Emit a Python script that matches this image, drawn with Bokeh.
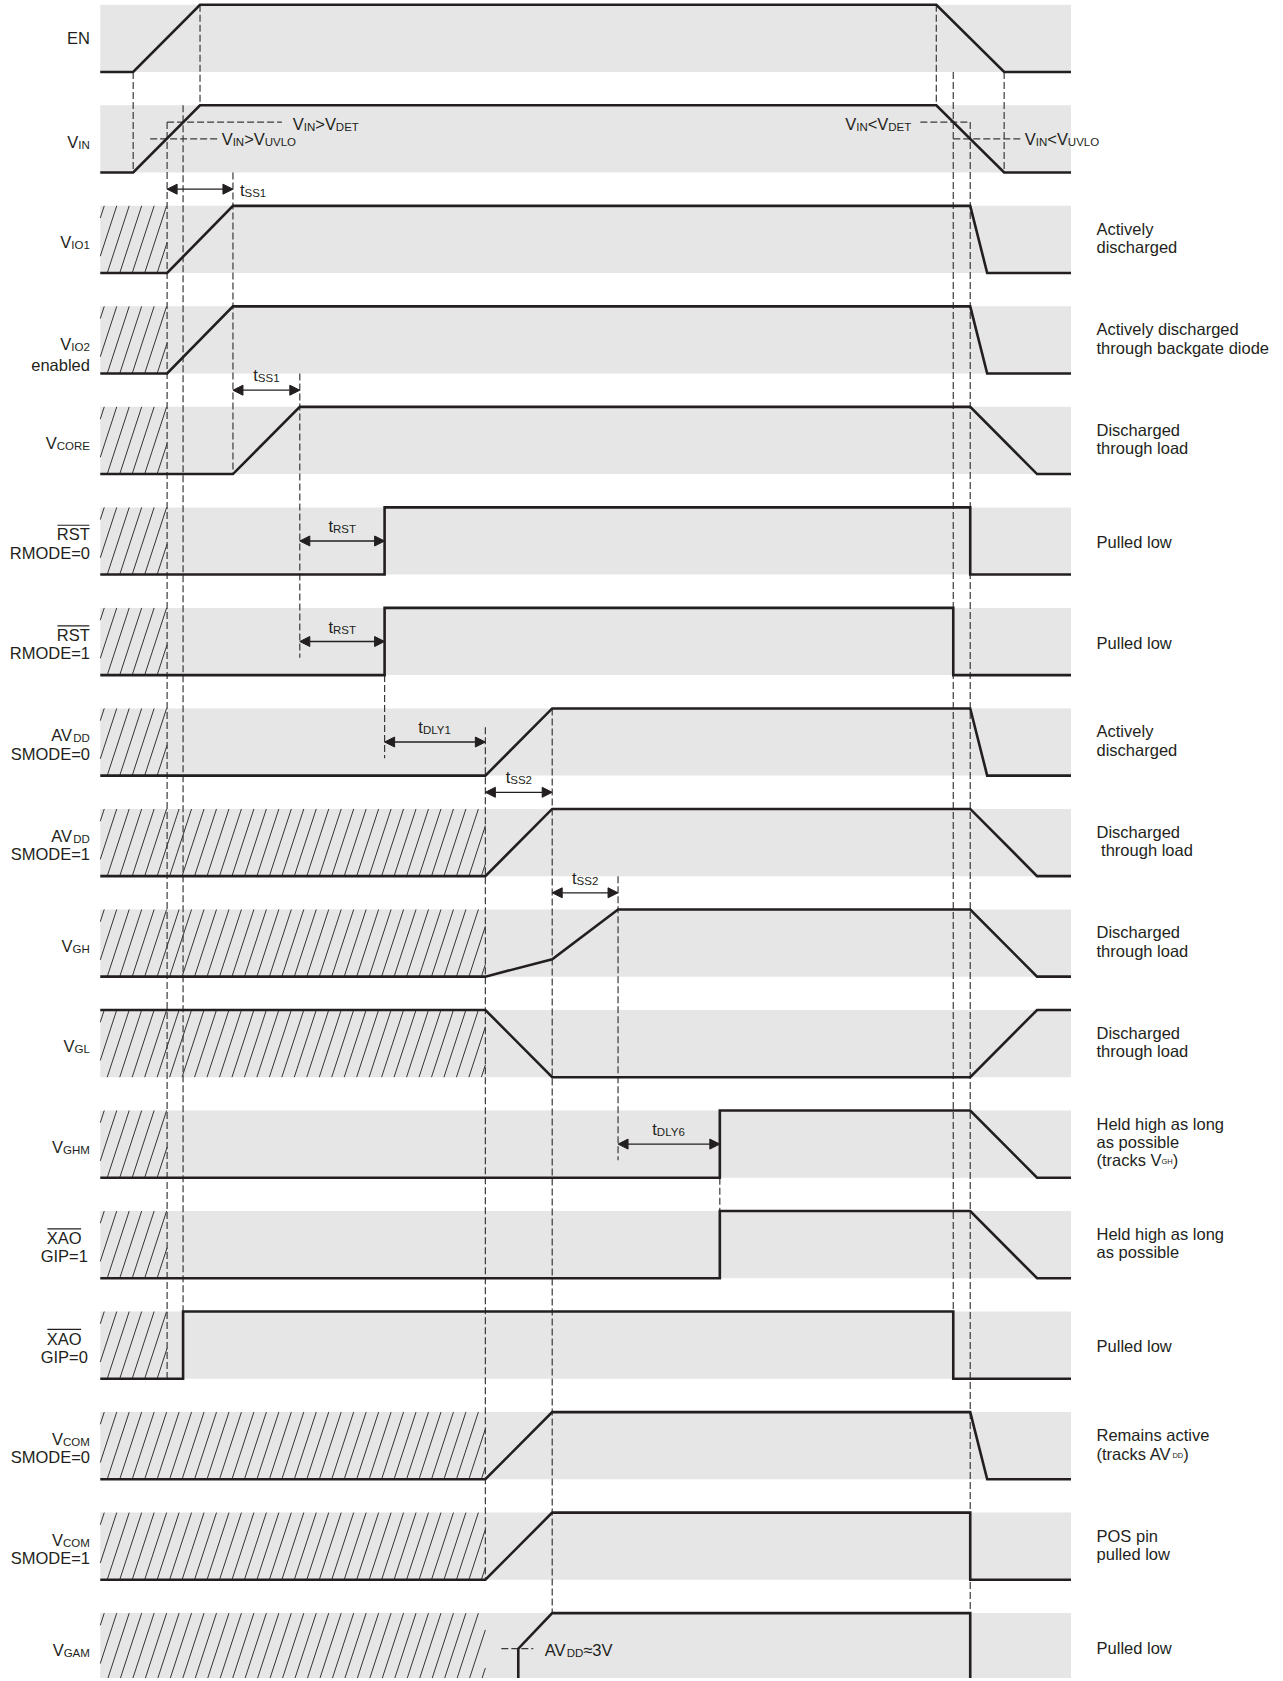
import re
from bokeh.plotting import figure
from bokeh.models import Range1d, ColumnDataSource, Arrow, NormalHead
from bokeh.core.properties import value
from bokeh.embed import file_html
from bokeh.resources import INLINE

INK = "#231f20"
BAND_FILL = "#e6e6e6"
DASH_COLOR = "#3a3a3a"
FONT = "Liberation Sans"

# ---------------- data ----------------
T_START, T_END = 100, 1073            # time axis extent of every trace
BAND_TOP0, BAND_PITCH, BAND_H = 4.3, 100.7, 67.3

V_DET, V_UVLO = 0.75, 0.50            # thresholds on the V_IN trace (fraction of high level)
VGH_KNEE = 0.26
VGAM_3V = 0.47

EN_T    = [100, 133, 200, 938, 1006, 1073];  EN_V    = [0, 0, 1, 1, 0, 0]
VIN_T   = [100, 133, 200, 938, 1006, 1073];  VIN_V   = [0, 0, 1, 1, 0, 0]
VIO1_T  = [100, 167, 233, 972, 989, 1073];   VIO1_V  = [0, 0, 1, 1, 0, 0]
VIO2_T  = [100, 167, 233, 972, 989, 1073];   VIO2_V  = [0, 0, 1, 1, 0, 0]
VCORE_T = [100, 233, 300, 972, 1039, 1073];  VCORE_V = [0, 0, 1, 1, 0, 0]
RST0_T  = [100, 385, 385, 972, 972, 1073];   RST0_V  = [0, 0, 1, 1, 0, 0]
RST1_T  = [100, 385, 385, 955, 955, 1073];   RST1_V  = [0, 0, 1, 1, 0, 0]
AVDD0_T = [100, 486, 553, 972, 989, 1073];   AVDD0_V = [0, 0, 1, 1, 0, 0]
AVDD1_T = [100, 486, 553, 972, 1039, 1073];  AVDD1_V = [0, 0, 1, 1, 0, 0]
VGH_T   = [100, 486, 553, 619, 972, 1039, 1073]; VGH_V = [0, 0, VGH_KNEE, 1, 1, 0, 0]
VGL_T   = [100, 486, 553, 972, 1039, 1073];  VGL_V   = [1, 1, 0, 0, 1, 1]
VGHM_T  = [100, 721, 721, 972, 1039, 1073];  VGHM_V  = [0, 0, 1, 1, 0, 0]
XAO1_T  = [100, 721, 721, 972, 1039, 1073];  XAO1_V  = [0, 0, 1, 1, 0, 0]
XAO0_T  = [100, 183, 183, 955, 955, 1073];   XAO0_V  = [0, 0, 1, 1, 0, 0]
VCOM0_T = [100, 486, 553, 972, 989, 1073];   VCOM0_V = [0, 0, 1, 1, 0, 0]
VCOM1_T = [100, 486, 553, 972, 972, 1073];   VCOM1_V = [0, 0, 1, 1, 0, 0]
VGAM_T  = [100, 519, 519, 553, 972, 972, 1073]; VGAM_V = [0, 0, VGAM_3V, 1, 1, 0, 0]

TRACE_T = [EN_T, VIN_T, VIO1_T, VIO2_T, VCORE_T, RST0_T, RST1_T, AVDD0_T, AVDD1_T,
           VGH_T, VGL_T, VGHM_T, XAO1_T, XAO0_T, VCOM0_T, VCOM1_T, VGAM_T]
TRACE_V = [EN_V, VIN_V, VIO1_V, VIO2_V, VCORE_V, RST0_V, RST1_V, AVDD0_V, AVDD1_V,
           VGH_V, VGL_V, VGHM_V, XAO1_V, XAO0_V, VCOM0_V, VCOM1_V, VGAM_V]

# end of the "undefined" (hatched) interval per row, None = no hatch
HATCH_END = [None, None, 167, 167, 167, 167, 167, 167, 486, 486, 486, 167, 167, 167, 486, 486, 486]

LEFT_LABELS = [
    ["EN"], ["V_{IN}"], ["V_{IO1}"], ["V_{IO2}", "enabled"], ["V_{CORE}"],
    ["~{RST}", "RMODE=0"], ["~{RST}", "RMODE=1"],
    ["AV_{DD}", "SMODE=0"], ["AV_{DD}", "SMODE=1"],
    ["V_{GH}"], ["V_{GL}"], ["V_{GHM}"],
    ["~{XAO}", "GIP=1"], ["~{XAO}", "GIP=0"],
    ["V_{COM}", "SMODE=0"], ["V_{COM}", "SMODE=1"], ["V_{GAM}"],
]
RIGHT_LABELS = [
    [], [],
    ["Actively", "discharged"],
    ["Actively discharged", "through backgate diode"],
    ["Discharged", "through load"],
    ["Pulled low"], ["Pulled low"],
    ["Actively", "discharged"],
    ["Discharged", " through load"],
    ["Discharged", "through load"],
    ["Discharged", "through load"],
    ["Held high as long", "as possible", "(tracks V^{GH})"],
    ["Held high as long", "as possible"],
    ["Pulled low"],
    ["Remains active", "(tracks AV^{DD})"],
    ["POS pin", "pulled low"],
    ["Pulled low"],
]

# timing intervals (arrows)
ARROW_TEXT = ["t_{SS1}", "t_{SS1}", "t_{RST}", "t_{RST}", "t_{DLY1}", "t_{SS2}", "t_{SS2}", "t_{DLY6}"]
ARROW_FROM = [167, 233, 300, 300, 385, 486, 553, 619]
ARROW_TO   = [233, 300, 385, 385, 486, 553, 619, 721]
ARROW_ROW  = [1.5, 3.5, 5, 6, 7, 7.5, 8.5, 11]

# vertical dashed guides: time, (row, level) start, (row, level) end
GUIDE_T     = [133, 200, 167, 183, 233, 300, 385, 486, 553, 619, 721, 938, 1006, 955, 972]
GUIDE_FROM  = [(0, 0), (0, 1), (1, V_DET), (1, 1), (1, 0), (3, 0), (6, 0), (7, 0.72), (7, 1),
               (8, 0), (11, 0), (0, 1), (0, 0), (0, 0), (1, V_DET)]
GUIDE_TO    = [(1, 0), (1, 1), (13, 0), (13, 0), (4, 0), (6, 0.26), (7, 0.26), (15, 0), (16, 1),
               (11, 0.26), (12, 1), (1, 1), (1, 0), (13, 0), (16, 1)]

# horizontal dashed threshold marks: row, level, from, to
HMARK_ROW = [1, 1, 1, 1, 16]
HMARK_LEV = [V_DET, V_UVLO, V_DET, V_UVLO, VGAM_3V]
HMARK_X0  = [167, 150, 922, 955, 502]
HMARK_X1  = [282, 218, 972, 1023, 534]

THRESH_TEXT = ["V_{IN}>V_{DET}", "V_{IN}>V_{UVLO}", "V_{IN}<V_{DET}", "V_{IN}<V_{UVLO}", "AV_{DD}≈3V"]
THRESH_X    = [293, 221.7, 846.7, 1026.7, 545.5]

# ---------------- helpers ----------------
AW = {' ': 278, '!': 278, '(': 333, ')': 333, '=': 584, '<': 584, '>': 584, '≈': 584, '.': 278}
for c in "0123456789":
    AW[c] = 556
AW.update(dict(zip("ABCDEFGHIJKLMNOPQRSTUVWXYZ",
                   [667, 667, 722, 722, 667, 611, 778, 722, 278, 500, 667, 556, 833, 722, 778,
                    667, 778, 722, 667, 611, 722, 667, 944, 667, 667, 611])))
AW.update(dict(zip("abcdefghijklmnopqrstuvwxyz",
                   [556, 556, 500, 556, 556, 278, 556, 556, 222, 222, 500, 222, 833, 556, 556,
                    556, 556, 333, 500, 278, 556, 500, 722, 500, 500, 500])))

SIZE = {"n": 16.5, "o": 16.5, "s": 11.5, "t": 7.5}
DROP = {"n": 0.0, "o": 0.0, "s": 3.0, "t": 2.0}
TEXT_DY = -4.5          # baseline correction for the rendered text


def tw(s, size):
    return sum(AW.get(c, 556) for c in s) / 1000.0 * size


def parse(label):
    parts = []
    for m in re.finditer(r"_\{([^}]*)\}|\^\{([^}]*)\}|~\{([^}]*)\}|([^_^~]+)", label):
        if m.group(1) is not None:
            parts.append((m.group(1), "s"))
        elif m.group(2) is not None:
            parts.append((m.group(2), "t"))
        elif m.group(3) is not None:
            parts.append((m.group(3), "o"))
        else:
            parts.append((m.group(4), "n"))
    return parts


def band_top(r):
    return BAND_TOP0 + r * BAND_PITCH


def level_y(r, lev):
    return band_top(r) + (1 - lev) * BAND_H


texts = {k: dict(x=[], y=[], text=[]) for k in ("n", "s", "t")}
over = dict(x0=[], y0=[], x1=[], y1=[])


def line_width_of(label):
    return sum(tw(t, SIZE[k]) for t, k in parse(label))


def place(label, x, y, align="left"):
    parts = parse(label)
    w = line_width_of(label)
    x0 = x - w if align == "right" else (x - w / 2 if align == "center" else x)
    for t, k in parts:
        key = "n" if k == "o" else k
        stripped = t.lstrip(" ")
        x0 += tw(t[:len(t) - len(stripped)], SIZE[k])
        wt = tw(stripped, SIZE[k])
        texts[key]["x"].append(x0)
        texts[key]["y"].append(y + DROP[k] + TEXT_DY)
        texts[key]["text"].append(stripped)
        if k == "o":
            over["x0"].append(x0 + 0.5)
            over["x1"].append(x0 + wt - 0.5)
            over["y0"].append(y - 13.6)
            over["y1"].append(y - 13.6)
        x0 += wt


# ---------------- figure ----------------
W_PX, H_PX = 1280, 1678
p = figure(width=W_PX, height=H_PX, x_range=Range1d(0, 1283), y_range=Range1d(1681, 0),
           output_backend="svg", toolbar_location=None, min_border=0,
           x_axis_type=None, y_axis_type=None)
p.grid.visible = False
p.outline_line_color = None
p.background_fill_color = "white"
p.border_fill_color = "white"

nrows = len(TRACE_T)
tops = [band_top(r) for r in range(nrows)]
p.quad(left=[T_START] * nrows, right=[T_END] * nrows, top=tops,
       bottom=[t + BAND_H for t in tops], fill_color=BAND_FILL, line_color=None)

# hatching of undefined intervals
hx0, hy0, hx1, hy1 = [], [], [], []
STEP, LEAN = 12.5, 22.0
for r, xe in enumerate(HATCH_END):
    if xe is None:
        continue
    yt, yb = band_top(r), band_top(r) + BAND_H
    x0 = T_START - LEAN + 4
    while x0 < xe:
        ta = max(0.0, (T_START - x0) / LEAN)
        tb = min(1.0, (xe - x0) / LEAN)
        if tb > ta:
            hx0.append(x0 + LEAN * ta); hy0.append(yb + (yt - yb) * ta)
            hx1.append(x0 + LEAN * tb); hy1.append(yb + (yt - yb) * tb)
        x0 += STEP
p.segment(x0=hx0, y0=hy0, x1=hx1, y1=hy1, line_color=INK, line_width=0.9)

# dashed guides
gx0 = GUIDE_T
gy0 = [level_y(r, l) for r, l in GUIDE_FROM]
gy1 = [level_y(r, l) for r, l in GUIDE_TO]
p.segment(x0=gx0, y0=gy0, x1=gx0, y1=gy1, line_color=DASH_COLOR, line_width=1.2,
          line_dash="7 3")
my = [level_y(r, l) for r, l in zip(HMARK_ROW, HMARK_LEV)]
p.segment(x0=HMARK_X0, y0=my, x1=HMARK_X1, y1=my, line_color=DASH_COLOR, line_width=1.2,
          line_dash="7 3")

# traces
xs = [list(t) for t in TRACE_T]
ys = [[level_y(r, v) for v in vals] for r, vals in enumerate(TRACE_V)]
p.multi_line(xs=xs, ys=ys, line_color=INK, line_width=2.6, line_join="miter")

# arrows
ay = [BAND_TOP0 + r * BAND_PITCH + BAND_H / 2 for r in ARROW_ROW]
asrc = ColumnDataSource(dict(x0=ARROW_FROM, x1=ARROW_TO, y=ay))
p.add_layout(Arrow(start=NormalHead(size=10, fill_color=INK, line_color=INK, line_width=1),
                   end=NormalHead(size=10, fill_color=INK, line_color=INK, line_width=1),
                   x_start="x0", y_start="y", x_end="x1", y_end="y", source=asrc,
                   line_color=INK, line_width=1.3))
for i, lab in enumerate(ARROW_TEXT):
    if i == 0:
        place(lab, ARROW_TO[i] + 7, ay[i] + 5.5, "left")
    else:
        place(lab, (ARROW_FROM[i] + ARROW_TO[i]) / 2, ay[i] - 10.5, "center")

# threshold labels
for lab, x, r, l in zip(THRESH_TEXT, THRESH_X, HMARK_ROW, HMARK_LEV):
    extra = -1.5 if "UVLO" in lab else 0.0
    place(lab, x, level_y(r, l) + 6 + extra, "left")

# left labels
LEFT_EDGE = 89.5
for r, lines in enumerate(LEFT_LABELS):
    top = band_top(r)
    if len(lines) == 1:
        extra = -3.0 if lines[0] == "EN" else 0.0
        place(lines[0], LEFT_EDGE, top + 41 + extra, "right")
    else:
        if r == 3:
            offs = [42.5, 63]
        else:
            offs = [31.5, 50]
        if lines[0].startswith("~{XAO"):
            w2 = line_width_of(lines[1])
            cx = 87.5 - w2 / 2
            place(lines[0], cx, top + offs[0], "center")
            place(lines[1], 87.5, top + offs[1], "right")
        else:
            for lab, o in zip(lines, offs):
                place(lab, LEFT_EDGE, top + o, "right")

# right labels
RIGHT_X = 1098.6
for r, lines in enumerate(RIGHT_LABELS):
    top = band_top(r)
    n = len(lines)
    if n == 1:
        offs = [39.5]
    elif n == 2:
        offs = [27.5, 46]
    else:
        offs = [18, 36, 54]
    for lab, o in zip(lines, offs):
        place(lab, RIGHT_X, top + o, "left")

# overlines
p.segment(x0=over["x0"], y0=over["y0"], x1=over["x1"], y1=over["y1"], line_color=INK,
          line_width=1.2)

for key in ("n", "s", "t"):
    src = ColumnDataSource(texts[key])
    p.text(x="x", y="y", text="text", source=src, text_font=value(FONT),
           text_font_size=value(f"{SIZE[key]}px"), text_color=INK,
           text_align="left", text_baseline="alphabetic")

open("out.html", "w").write(file_html(p, INLINE))
